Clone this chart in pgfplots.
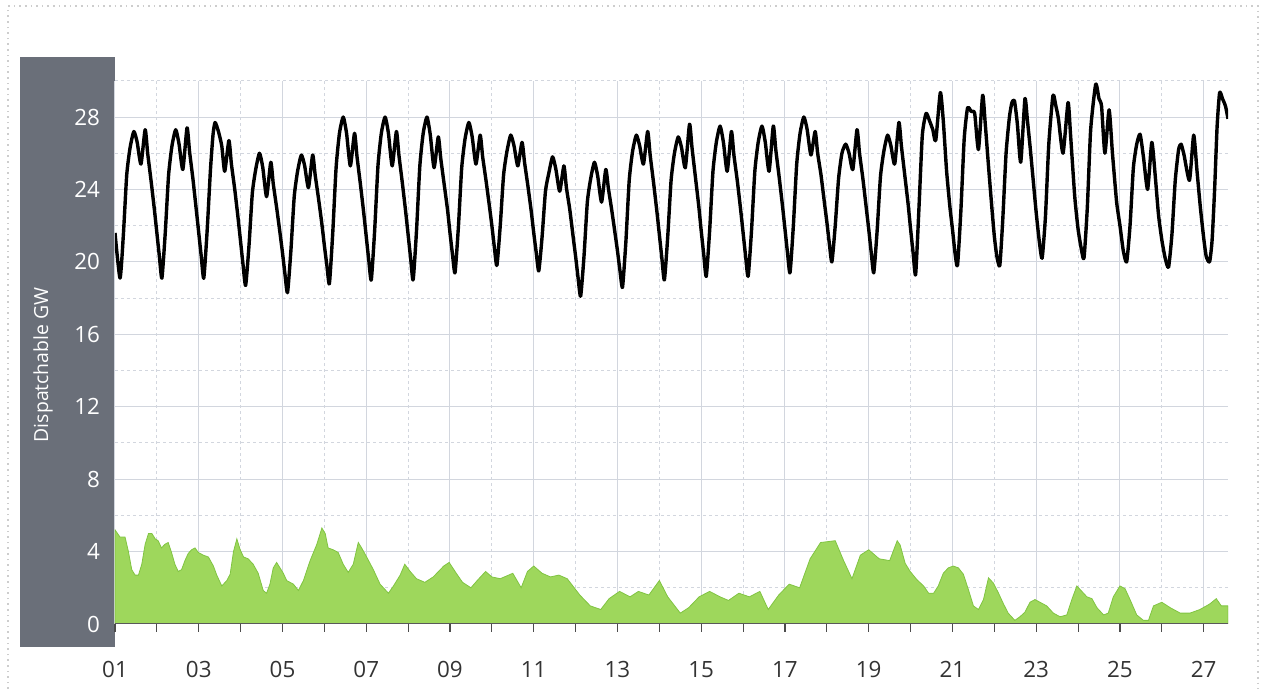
\documentclass[border=0pt]{standalone}
\usepackage{pgfplots}
\pgfplotsset{compat=1.18}
\usepackage{fontspec}
\setmainfont{Open Sans}
\definecolor{band}{RGB}{106,111,121}
\definecolor{gridc}{RGB}{210,214,222}
\definecolor{greenf}{RGB}{158,215,92}
\definecolor{greend}{RGB}{128,196,66}
\definecolor{framec}{RGB}{205,205,205}
\begin{document}
\begin{tikzpicture}
\useasboundingbox (0,0) rectangle (631.5pt,344.5pt);
\draw[framec, dotted, line width=0.8pt] (4pt,0) -- (4pt,341.5pt) -- (629pt,341.5pt) -- (629pt,0);
\fill[band] (10pt,21pt) rectangle (57.5pt,316pt);
\begin{axis}[
  at={(57.5pt,32.5pt)}, anchor=south west,
  scale only axis, width=556.5pt, height=271.6pt,
  xmin=1, xmax=27.58, ymin=0, ymax=30,
  axis x line=bottom, axis y line=left,
  x axis line style={draw=none},
  y axis line style={draw=none},
  xtick={1,3,...,27},
  xticklabels={01,03,05,07,09,11,13,15,17,19,21,23,25,27},
  minor xtick={2,4,...,26},
  ytick={0,4,...,28},
  minor ytick={2,6,...,30},
  grid=both,
  major grid style={gridc, line width=0.5pt},
  minor grid style={gridc, line width=0.5pt, dash pattern=on 1.5pt off 1.5pt},
  tick align=outside,
  major tick length=4pt, minor tick length=4pt,
  xtick style={black!70, line width=0.6pt},
  ytick style={draw=none},
  /pgf/number format/assume math mode=true,
  yticklabel style={text=white, font=\fontsize{11.2}{13}\selectfont, xshift=0pt},
  xticklabel style={text=black!80, font=\fontsize{11.2}{13}\selectfont, yshift=-11pt},
  ylabel={Dispatchable GW},
  ylabel style={at={(axis description cs:-0.0647,0.477)}, anchor=center, text=white, font=\fontsize{9.7}{11}\selectfont},
]
\addplot[fill=greenf, draw=greend, line width=0.4pt] table {
x y
1.00 5.2
1.12 4.8
1.24 4.8
1.32 4.0
1.40 3.0
1.48 2.7
1.56 2.7
1.64 3.3
1.72 4.4
1.80 5.0
1.88 5.0
1.96 4.7
2.03 4.6
2.11 4.2
2.19 4.4
2.27 4.5
2.35 3.95
2.43 3.3
2.51 2.9
2.59 3.0
2.67 3.5
2.75 3.9
2.83 4.1
2.91 4.2
2.99 3.95
3.11 3.8
3.23 3.7
3.35 3.2
3.43 2.7
3.55 2.1
3.67 2.4
3.75 2.75
3.83 4.0
3.91 4.7
3.99 4.1
4.07 3.7
4.18 3.6
4.30 3.3
4.42 2.8
4.54 1.85
4.62 1.7
4.70 2.2
4.78 3.1
4.86 3.4
4.94 3.1
5.02 2.8
5.10 2.4
5.26 2.2
5.38 1.85
5.50 2.4
5.66 3.5
5.82 4.4
5.94 5.3
6.02 5.0
6.09 4.2
6.21 4.1
6.33 3.95
6.45 3.3
6.57 2.85
6.69 3.3
6.81 4.5
6.89 4.2
7.01 3.7
7.17 3.0
7.33 2.2
7.53 1.7
7.65 2.1
7.81 2.7
7.92 3.3
8.05 2.9
8.2 2.5
8.4 2.3
8.6 2.6
8.85 3.2
8.98 3.4
9.15 2.8
9.3 2.3
9.5 2.0
9.65 2.4
9.85 2.9
10.0 2.6
10.2 2.5
10.5 2.8
10.7 2.0
10.85 2.9
11.0 3.2
11.2 2.8
11.4 2.6
11.6 2.7
11.8 2.5
12.1 1.6
12.35 1.0
12.6 0.8
12.8 1.4
13.05 1.8
13.3 1.5
13.5 1.8
13.75 1.6
14.0 2.4
14.2 1.5
14.5 0.6
14.7 0.9
14.95 1.5
15.2 1.8
15.45 1.5
15.65 1.3
15.9 1.7
16.15 1.5
16.4 1.8
16.6 0.8
16.85 1.6
17.1 2.2
17.35 2.0
17.6 3.6
17.85 4.5
18.2 4.6
18.4 3.5
18.6 2.5
18.8 3.8
19.0 4.1
19.25 3.6
19.5 3.5
19.68 4.6
19.75 4.36
19.87 3.35
19.99 2.9
20.15 2.45
20.31 2.1
20.43 1.7
20.55 1.7
20.66 2.1
20.78 2.8
20.90 3.1
21.02 3.2
21.14 3.1
21.26 2.75
21.38 1.9
21.50 1.0
21.62 0.8
21.74 1.35
21.86 2.55
21.98 2.25
22.10 1.7
22.22 1.1
22.33 0.6
22.49 0.2
22.61 0.4
22.73 0.65
22.85 1.2
22.97 1.35
23.09 1.2
23.25 1.0
23.41 0.6
23.57 0.4
23.73 0.5
23.85 1.35
23.97 2.1
24.09 1.8
24.21 1.5
24.33 1.4
24.45 0.9
24.61 0.5
24.72 0.6
24.84 1.5
25.00 2.1
25.12 1.95
25.24 1.35
25.40 0.5
25.56 0.2
25.68 0.2
25.80 1.0
26.00 1.2
26.20 0.9
26.44 0.6
26.67 0.6
26.91 0.8
27.14 1.1
27.30 1.4
27.42 1.0
27.58 1.0
} \closedcycle;
\addplot[black, line width=1.7pt, line join=round, smooth, tension=0.35] table {
x y
1.00 21.6
1.12 19.1
1.20 21.5
1.28 24.8
1.36 26.3
1.45 27.2
1.53 26.6
1.62 25.4
1.72 27.3
1.78 26.0
1.86 24.5
1.94 22.9
2.00 21.6
2.06 20.3
2.12 19.1
2.20 21.6
2.28 24.8
2.36 26.4
2.45 27.3
2.53 26.5
2.62 25.1
2.72 27.4
2.78 26.1
2.86 24.6
2.94 22.9
3.00 21.6
3.06 20.3
3.12 19.1
3.20 21.7
3.28 25.1
3.34 27.0
3.39 27.7
3.47 27.2
3.55 26.4
3.62 25.0
3.72 26.7
3.78 25.4
3.86 24.0
3.94 22.4
4.00 21.1
4.06 19.8
4.12 18.7
4.20 20.9
4.28 23.8
4.36 25.1
4.45 26.0
4.53 25.2
4.62 23.6
4.72 25.5
4.78 24.3
4.86 23.0
4.94 21.6
5.00 20.5
5.06 19.3
5.12 18.3
5.20 20.6
5.28 23.6
5.36 25.0
5.45 25.9
5.53 25.3
5.62 24.1
5.72 25.9
5.78 24.8
5.86 23.5
5.94 22.1
6.00 20.9
6.06 19.8
6.12 18.8
6.20 21.6
6.28 25.2
6.36 27.1
6.45 28.0
6.53 27.1
6.62 25.3
6.72 27.1
6.78 25.8
6.86 24.3
6.94 22.7
7.00 21.4
7.06 20.1
7.12 19.0
7.20 21.7
7.28 25.3
7.36 27.1
7.45 28.0
7.53 27.1
7.62 25.3
7.72 27.2
7.78 25.9
7.86 24.4
7.94 22.8
8.00 21.5
8.06 20.2
8.12 19.0
8.20 21.7
8.28 25.3
8.36 27.1
8.45 28.0
8.53 27.0
8.62 25.2
8.72 26.9
8.78 25.7
8.86 24.3
8.94 22.9
9.00 21.6
9.06 20.4
9.12 19.4
9.20 21.9
9.28 25.2
9.36 26.8
9.45 27.7
9.53 26.9
9.62 25.4
9.72 27.0
9.78 25.8
9.86 24.5
9.94 23.1
10.00 22.0
10.06 20.8
10.12 19.8
10.20 22.0
10.28 24.8
10.36 26.1
10.45 27.0
10.53 26.4
10.62 25.3
10.72 26.6
10.78 25.5
10.86 24.2
10.94 22.8
11.00 21.6
11.06 20.5
11.12 19.5
11.20 21.4
11.28 23.9
11.36 24.9
11.45 25.8
11.53 25.1
11.62 23.9
11.72 25.3
11.78 24.1
11.86 22.9
11.94 21.4
12.00 20.3
12.06 19.1
12.12 18.1
12.20 20.3
12.28 23.3
12.36 24.6
12.45 25.5
12.53 24.7
12.62 23.3
12.72 25.1
12.78 24.1
12.86 22.9
12.94 21.6
13.00 20.6
13.06 19.5
13.12 18.6
13.20 21.1
13.28 24.5
13.36 26.1
13.45 27.0
13.53 26.4
13.62 25.4
13.72 27.2
13.78 25.9
13.86 24.4
13.94 22.8
14.00 21.5
14.06 20.2
14.12 19.0
14.20 21.4
14.28 24.5
14.36 26.0
14.45 26.9
14.53 26.3
14.62 25.2
14.72 27.6
14.78 26.3
14.86 24.7
14.94 23.1
15.00 21.7
15.06 20.4
15.12 19.2
15.20 21.7
15.28 25.0
15.36 26.6
15.45 27.5
15.53 26.6
15.62 25.0
15.72 27.2
15.78 25.9
15.86 24.5
15.94 22.9
16.00 21.6
16.06 20.3
16.12 19.2
16.20 21.7
16.28 25.0
16.36 26.6
16.45 27.5
16.53 26.6
16.62 25.0
16.72 27.5
16.78 26.2
16.86 24.7
16.94 23.1
17.00 21.8
17.06 20.5
17.12 19.4
17.20 22.0
17.28 25.4
17.36 27.1
17.45 28.0
17.53 27.3
17.62 25.9
17.72 27.2
17.78 26.0
17.86 24.8
17.94 23.3
18.00 22.2
18.06 21.0
18.12 20.0
18.20 22.0
18.28 24.6
18.36 26.0
18.45 26.5
18.53 26.0
18.62 25.1
18.72 27.3
18.78 26.0
18.86 24.6
18.94 23.0
19.00 21.8
19.06 20.5
19.12 19.4
19.20 21.7
19.28 24.7
19.36 26.1
19.45 27.0
19.53 26.4
19.62 25.4
19.72 27.7
19.78 26.4
19.86 24.8
19.94 23.2
20.00 21.8
20.06 20.5
20.12 19.3
20.20 23.0
20.28 27.0
20.37 28.2
20.45 27.8
20.53 27.3
20.60 26.7
20.71 29.35
20.78 27.8
20.86 25.0
20.94 23.0
21.00 21.8
21.06 20.5
21.12 19.8
21.20 22.8
21.28 26.8
21.36 28.5
21.45 28.3
21.53 28.2
21.62 26.2
21.72 29.2
21.78 27.7
21.86 25.3
21.94 23.0
22.00 21.4
22.06 20.3
22.13 19.8
22.20 22.3
22.28 26.0
22.36 28.0
22.42 28.8
22.48 28.9
22.55 27.6
22.63 25.5
22.73 29.0
22.79 27.8
22.86 26.2
22.94 24.2
23.00 22.7
23.07 21.2
23.14 20.2
23.22 22.5
23.30 26.5
23.40 29.2
23.47 28.6
23.53 27.9
23.64 26.0
23.76 28.8
23.82 27.0
23.92 23.6
24.00 21.8
24.07 20.8
24.14 20.2
24.22 23.0
24.30 27.3
24.42 29.8
24.50 29.0
24.56 28.6
24.64 26.0
24.74 28.4
24.82 26.0
24.92 23.3
25.00 22.0
25.08 20.6
25.16 20.0
25.24 22.0
25.32 25.2
25.40 26.5
25.48 27.05
25.56 25.8
25.66 24.0
25.76 26.6
25.84 24.8
25.92 22.6
26.00 21.2
26.08 20.2
26.16 19.7
26.24 21.5
26.32 24.5
26.40 26.2
26.46 26.5
26.53 25.9
26.66 24.5
26.76 27.0
26.84 25.0
26.92 23.0
27.00 21.3
27.06 20.3
27.14 20.0
27.20 21.2
27.26 24.0
27.32 27.5
27.38 29.35
27.45 29.0
27.52 28.6
27.58 27.9
};
\draw[black!65, line width=1.2pt] (axis cs:1,0) -- (axis cs:27.58,0);
\end{axis}
\end{tikzpicture}
\end{document}
